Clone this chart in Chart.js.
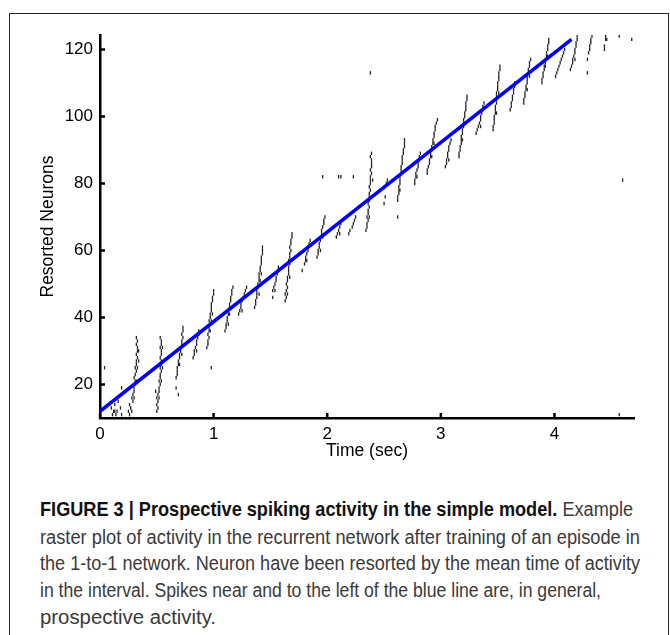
<!DOCTYPE html>
<html>
<head>
<meta charset="utf-8">
<script src="https://cdn.jsdelivr.net/npm/chart.js@4.4.1/dist/chart.umd.min.js"></script>
<style>
  html, body { margin: 0; padding: 0; background: #ffffff; }
  #page { position: relative; width: 670px; height: 635px; overflow: hidden; background: #ffffff; }
  #frame { position: absolute; left: 9px; top: 13px; width: 660px; height: 640px;
           border: 1.5px solid #2a2a2a; box-sizing: border-box; }
  #plot { position: absolute; left: 0; top: 0; }
  .cap { position: absolute; left: 40px; white-space: nowrap; transform-origin: 0 50%;
         font-family: "Liberation Sans", Arial, Helvetica, sans-serif; font-size: 19.5px;
         color: #3a3a3a; line-height: 20px; }
  .cap b { color: #111111; font-weight: bold; }
</style>
</head>
<body>
<div id="page">
  <div id="frame"></div>
  <canvas id="plot" width="670" height="470"></canvas>
  <div class="cap" data-w="593" style="top:499px"><b>FIGURE 3 | Prospective spiking activity in the simple model.</b> Example</div>
  <div class="cap" data-w="600" style="top:527px">raster plot of activity in the recurrent network after training of an episode in</div>
  <div class="cap" data-w="600" style="top:553px">the 1-to-1 network. Neuron have been resorted by the mean time of activity</div>
  <div class="cap" data-w="561" style="top:580px">in the interval. Spikes near and to the left of the blue line are, in general,</div>
  <div class="cap" data-w="176" style="top:607px">prospective activity.</div>
</div>
<script>
// Axis ticks
const xTicks = [0, 1, 2, 3, 4];
const yTicks = [20, 40, 60, 80, 100, 120];

// Reference line through the sequence: [time (s), neuron]
const trendLine = [[0, 12], [4.15, 123]];

// Spike raster, one [time (s), neuron] pair per spike, grouped by volley
const earlySpikes = [
  [0.04,25],[0.10,13],[0.11,11],[0.12,12],[0.13,14],[0.14,11],[0.15,12],[0.16,15],[0.18,13],
  [0.19,11],[0.19,19],[0.25,12],[0.26,11],[0.26,14],[0.27,13],[0.28,16],[0.28,12],[0.13,12]
];
const volleysA = [
  [0.29,15],[0.29,17],[0.30,18],[0.30,19],[0.31,20],[0.31,21],[0.30,22],[0.31,23],[0.32,24],[0.31,25],
  [0.32,26],[0.32,27],[0.33,28],[0.32,29],[0.33,30],[0.33,31],[0.32,32],[0.33,33],[0.32,34],[0.34,30],
  [0.30,16],[0.32,21],[0.33,25],[0.34,27],
  [0.50,12],[0.51,13],[0.50,14],[0.51,15],[0.52,16],[0.51,17],[0.52,18],[0.52,19],[0.53,20],[0.52,21],
  [0.53,22],[0.53,23],[0.54,24],[0.53,25],[0.54,26],[0.54,27],[0.53,28],[0.54,29],[0.54,30],[0.53,31],
  [0.54,32],[0.54,33],[0.53,34],[0.49,18],[0.50,16],[0.54,21],[0.55,25],[0.55,31],
  [0.67,19],[0.67,22],[0.68,24],[0.68,25],[0.69,26],[0.69,27],[0.70,28],[0.70,29],[0.71,30],[0.71,31],
  [0.72,32],[0.72,33],[0.73,34],[0.72,35],[0.73,36],[0.73,37],[0.68,23],[0.69,17],[0.70,26],[0.72,29],
  [0.82,28],[0.83,29],[0.83,30],[0.84,31],[0.85,32],[0.85,33],[0.86,34],[0.87,35],[0.87,36],[0.85,30],
  [0.94,31],[0.95,32],[0.95,33],[0.96,34],[0.95,35],[0.96,36],[0.96,37],[0.97,38],[0.96,39],[0.97,40],
  [0.97,41],[0.98,42],[0.98,43],[0.98,44],[0.99,45],[0.99,46],[1.00,47],[1.00,48],[0.98,25],[0.97,36],
  [0.98,39],[0.99,41]
];
const volleysB = [
  [1.10,36],[1.11,37],[1.11,38],[1.12,39],[1.12,40],[1.13,41],[1.13,42],[1.14,43],[1.14,44],[1.15,45],
  [1.15,46],[1.16,47],[1.16,48],[1.17,49],[1.13,38],[1.14,41],
  [1.22,41],[1.23,42],[1.24,43],[1.24,44],[1.25,45],[1.26,46],[1.27,47],[1.28,48],[1.29,49],[1.25,42],
  [1.36,43],[1.37,44],[1.37,45],[1.38,46],[1.38,47],[1.38,48],[1.39,49],[1.39,50],[1.40,51],[1.40,52],
  [1.40,53],[1.41,54],[1.41,55],[1.42,56],[1.42,57],[1.42,58],[1.43,59],[1.43,60],[1.43,61],[1.41,51],
  [1.40,47],[1.42,53],
  [1.52,46],[1.52,48],[1.53,49],[1.54,50],[1.55,51],[1.55,52],[1.56,53],[1.57,54],[1.57,55],[1.54,48],
  [1.63,45],[1.64,46],[1.63,47],[1.64,48],[1.65,49],[1.64,50],[1.65,51],[1.65,52],[1.66,53],[1.66,54],
  [1.66,55],[1.67,56],[1.66,57],[1.67,58],[1.67,59],[1.68,60],[1.67,61],[1.68,62],[1.68,63],[1.69,64],
  [1.69,65],[1.78,54],[1.65,47],[1.67,52],[1.68,57],
  [1.80,56],[1.81,57],[1.81,58],[1.82,59],[1.83,60],[1.83,61],[1.84,62],[1.85,63],[1.82,57],
  [1.91,58],[1.92,59],[1.92,60],[1.93,61],[1.93,62],[1.94,63],[1.94,64],[1.95,65],[1.95,66],[1.96,67],
  [1.97,68],[1.97,69],[1.98,70],[1.96,64],[1.94,60]
];
const volleysC = [
  [1.96,82],[2.10,82],[2.12,82],[2.23,82],
  [2.08,64],[2.09,65],[2.10,66],[2.11,67],[2.12,68],[2.11,65],
  [2.19,65],[2.20,66],[2.22,67],[2.23,68],[2.24,69],[2.25,70],
  [2.34,66],[2.35,67],[2.35,68],[2.36,69],[2.35,70],[2.36,71],[2.36,72],[2.37,73],[2.36,74],[2.37,75],
  [2.37,76],[2.37,77],[2.38,78],[2.37,79],[2.38,80],[2.38,81],[2.38,82],[2.39,83],[2.38,84],[2.39,85],
  [2.39,86],[2.39,87],[2.38,88],[2.39,89],[2.38,113],[2.37,70],[2.39,76],[2.40,81],
  [2.50,74],[2.51,76],[2.52,80],[2.53,81],
  [2.62,75],[2.62,76],[2.63,77],[2.63,78],[2.63,79],[2.64,80],[2.64,81],[2.64,82],[2.65,83],[2.65,84],
  [2.65,85],[2.66,86],[2.66,87],[2.66,88],[2.67,89],[2.67,90],[2.68,91],[2.68,92],[2.68,93],[2.62,70],
  [2.64,78],[2.66,83],
  [2.77,80],[2.77,81],[2.78,82],[2.78,83],[2.79,84],[2.80,85],[2.80,86],[2.81,87],[2.81,88],[2.82,89],
  [2.79,82],
  [2.88,83],[2.88,84],[2.89,85],[2.90,86],[2.90,87],[2.91,88],[2.91,89],[2.92,90],[2.92,91],[2.93,92],
  [2.93,93],[2.94,94],[2.94,95],[2.95,96],[2.95,97],[2.96,98],[2.97,99],[2.92,88],[2.94,92]
];
const volleysD = [
  [3.04,85],[3.05,86],[3.05,87],[3.06,88],[3.06,89],[3.07,90],[3.07,91],[3.08,92],[3.09,93],[3.07,87],
  [3.16,88],[3.16,89],[3.17,90],[3.17,91],[3.18,92],[3.18,93],[3.18,94],[3.19,95],[3.19,96],[3.20,97],
  [3.20,98],[3.20,99],[3.21,100],[3.21,101],[3.22,102],[3.22,103],[3.22,104],[3.23,105],[3.23,106],
  [3.19,93],[3.21,98],
  [3.31,95],[3.32,96],[3.33,97],[3.34,98],[3.35,99],[3.35,100],[3.36,101],[3.37,102],[3.37,103],[3.38,104],
  [3.35,97],
  [3.46,96],[3.46,97],[3.47,98],[3.47,99],[3.47,100],[3.48,101],[3.48,102],[3.48,103],[3.49,104],[3.49,105],
  [3.49,106],[3.49,107],[3.50,108],[3.50,109],[3.50,110],[3.51,111],[3.51,112],[3.51,113],[3.52,114],[3.52,115],
  [3.49,101],[3.51,107],
  [3.61,102],[3.62,103],[3.62,104],[3.63,105],[3.63,106],[3.64,107],[3.64,108],[3.65,109],[3.65,110]
];
const volleysE = [
  [3.73,104],[3.73,105],[3.74,106],[3.74,107],[3.75,108],[3.75,109],[3.76,110],[3.76,111],[3.76,112],
  [3.77,113],[3.77,114],[3.78,115],[3.78,116],[3.79,117],[3.76,108],[3.78,112],
  [3.89,110],[3.89,111],[3.90,112],[3.90,113],[3.91,114],[3.91,115],[3.92,116],[3.92,117],[3.93,118],
  [3.93,119],[3.94,120],[3.94,121],[3.95,122],[3.95,123],[3.92,115],[3.94,118],
  [4.01,112],[4.02,113],[4.03,114],[4.04,115],[4.05,116],[4.06,117],[4.07,118],[4.08,119],[4.09,120],
  [4.14,114],[4.15,115],[4.16,116],[4.16,117],[4.17,118],[4.18,119],[4.18,120],[4.19,121],[4.19,122],
  [4.20,123],[4.20,124],[4.18,117],
  [4.29,113],[4.29,117],[4.30,119],[4.31,120],[4.31,121],[4.32,122],[4.32,123],[4.33,124],
  [4.44,120],[4.44,121],[4.45,123],[4.45,124],[4.46,123],
  [4.57,124],[4.68,123],[4.60,81],[4.57,11]
];

const spikeGroups = [earlySpikes, volleysA, volleysB, volleysC, volleysD, volleysE];
const toXY = ([x, y]) => ({ x, y });

const AXIS_FONT = { family: '"Liberation Sans", Arial, Helvetica, sans-serif', size: 17 };
const TITLE_FONT = { family: '"Liberation Sans", Arial, Helvetica, sans-serif', size: 17.5 };

// Tick marks drawn inside the axes
const inwardTicks = {
  id: 'inwardTicks',
  afterDraw(chart) {
    const { ctx, chartArea, scales } = chart;
    ctx.save();
    ctx.strokeStyle = '#000';
    ctx.lineWidth = 2.5;
    ctx.beginPath();
    scales.x.ticks.forEach(t => {
      const px = scales.x.getPixelForValue(t.value);
      ctx.moveTo(px, chartArea.bottom);
      ctx.lineTo(px, chartArea.bottom - 5);
    });
    scales.y.ticks.forEach(t => {
      const py = scales.y.getPixelForValue(t.value);
      ctx.moveTo(chartArea.left, py);
      ctx.lineTo(chartArea.left + 5, py);
    });
    ctx.stroke();
    ctx.restore();
  }
};

new Chart(document.getElementById('plot'), {
  type: 'scatter',
  data: {
    datasets: [
      {
        type: 'line',
        data: trendLine.map(toXY),
        borderColor: '#0000f2',
        borderWidth: 3.5,
        pointRadius: 0,
        order: 0
      },
      {
        data: spikeGroups.flat().map(toXY),
        pointStyle: 'line',
        pointRotation: 90,
        pointRadius: 1.7,
        pointBorderWidth: 1.3,
        pointBorderColor: '#222222',
        pointBackgroundColor: '#222222',
        order: 1
      }
    ]
  },
  options: {
    responsive: false,
    animation: false,
    events: [],
    layout: { padding: { left: 0, right: 36, top: 35, bottom: 0 } },
    plugins: { legend: { display: false }, tooltip: { enabled: false } },
    scales: {
      x: {
        type: 'linear', min: 0, max: 4.7,
        afterBuildTicks: s => { s.ticks = xTicks.map(v => ({ value: v })); },
        afterFit: s => { s.height = 52; },
        grid: { display: false, drawTicks: false },
        border: { display: true, color: '#000', width: 2.5 },
        ticks: { color: '#000', font: AXIS_FONT, padding: 6, maxRotation: 0 },
        title: { display: true, text: 'Time (sec)', color: '#000', font: TITLE_FONT, padding: { top: 0, bottom: 8 } }
      },
      y: {
        type: 'linear', min: 10, max: 124.3,
        afterBuildTicks: s => { s.ticks = yTicks.map(v => ({ value: v })); },
        afterFit: s => { s.width = 100; },
        grid: { display: false, drawTicks: false },
        border: { display: true, color: '#000', width: 2.5 },
        ticks: { color: '#000', font: AXIS_FONT, padding: 7 },
        title: { display: true, text: 'Resorted Neurons', color: '#000', font: TITLE_FONT, padding: { top: 38, bottom: 0 } }
      }
    }
  },
  plugins: [inwardTicks]
});

// Fit each caption line to its set width
document.querySelectorAll('.cap').forEach(el => {
  const w = el.getBoundingClientRect().width;
  el.style.transform = 'scaleX(' + (parseFloat(el.dataset.w) / w).toFixed(4) + ')';
});
</script>
</body>
</html>
